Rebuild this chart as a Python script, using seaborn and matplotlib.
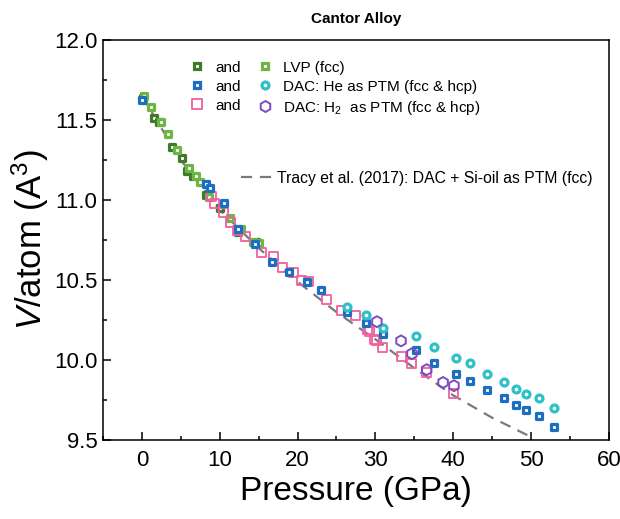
import matplotlib
matplotlib.use("Agg")
import matplotlib.pyplot as plt
import matplotlib.ticker as mticker
from matplotlib.lines import Line2D
import pandas as pd
import seaborn as sns

# --- data (pressure in GPa, volume in A^3/atom) ---
dg_p = [0.2, 1.5, 2.2, 3.9, 5.2, 5.8, 6.6, 8.2, 10.0, 12.4, 14.7]
dg_v = [11.64, 11.51, 11.49, 11.33, 11.26, 11.18, 11.15, 11.03, 10.95, 10.80, 10.74]

lg_p = [0.3, 1.2, 2.5, 3.3, 4.5, 6.1, 7.0, 7.5, 8.6, 11.3, 12.8, 14.3, 15.0]
lg_v = [11.65, 11.58, 11.49, 11.41, 11.31, 11.20, 11.15, 11.11, 11.02, 10.89, 10.82, 10.74, 10.73]

blue_p = [0.0, 8.2, 8.7, 10.5, 12.4, 14.5, 16.7, 18.9, 21.2, 23.0, 26.4, 28.8, 31.0,
          35.2, 37.6, 40.4, 42.1, 44.4, 46.5, 48.1, 49.3, 51.0, 53.0]
blue_v = [11.625, 11.10, 11.075, 10.98, 10.82, 10.725, 10.61, 10.55, 10.49, 10.44, 10.30,
          10.23, 10.16, 10.06, 9.98, 9.91, 9.87, 9.81, 9.76, 9.72, 9.69, 9.65, 9.58]

pink_p = [8.9, 9.3, 10.5, 11.4, 12.3, 13.3, 15.4, 16.9, 18.1, 19.5, 20.5, 21.4, 23.7,
          25.7, 27.5, 29.0, 29.3, 29.9, 30.2, 30.9, 33.3, 34.7, 36.6, 40.1]
pink_v = [11.02, 10.98, 10.92, 10.86, 10.81, 10.77, 10.67, 10.65, 10.58, 10.55, 10.50, 10.49, 10.38,
          10.31, 10.28, 10.19, 10.18, 10.13, 10.12, 10.08, 10.02, 9.98, 9.92, 9.79]

cyan_p = [26.4, 28.8, 31.0, 35.2, 37.6, 40.4, 42.1, 44.4, 46.5, 48.1, 49.3, 51.0, 53.0]
cyan_v = [10.33, 10.28, 10.20, 10.15, 10.08, 10.01, 9.98, 9.91, 9.86, 9.82, 9.79, 9.76, 9.70]

purple_p = [30.2, 33.3, 34.7, 36.6, 38.7, 40.1]
purple_v = [10.24, 10.12, 10.04, 9.94, 9.86, 9.84]

tracy_p = [0, 5, 10, 15, 20, 25, 30, 35, 40, 45, 50]
tracy_v = [11.65, 11.25, 10.94, 10.70, 10.49, 10.30, 10.13, 9.95, 9.78, 9.64, 9.52]

legend_labels = ["and", "and", "and", "LVP (fcc)",
                 "DAC: He as PTM (fcc & hcp)", r"DAC: H$_2$  as PTM (fcc & hcp)"]
tracy_label = "Tracy et al. (2017): DAC + Si-oil as PTM (fcc)"

sns.set_style("ticks")
plt.rcParams["font.family"] = ["Liberation Sans", "DejaVu Sans"]
plt.rcParams["mathtext.fontset"] = "custom"
plt.rcParams["mathtext.rm"] = "Liberation Sans"
plt.rcParams["mathtext.it"] = "Liberation Sans:italic"
plt.rcParams["text.color"] = "black"
plt.rcParams["axes.labelcolor"] = "black"
plt.rcParams["xtick.color"] = "black"
plt.rcParams["ytick.color"] = "black"

DG, LG, BLUE, PINK, CYAN, PURPLE = "#3f7a2c", "#6fb544", "#1b6ec2", "#f0609e", "#2fc0c8", "#7a4cc0"

fig = plt.figure(figsize=(6.2, 5.19), dpi=100)
ax = fig.add_axes([0.166, 0.152, 0.816, 0.771])

tracy = pd.DataFrame({"P": tracy_p, "V": tracy_v})
sns.lineplot(data=tracy, x="P", y="V", ax=ax, color="#7a7a7a", lw=1.6,
             dashes=False, zorder=1).lines[0].set_dashes([5, 3.5])

series = [
    (dg_p, dg_v, DG, "s", 18, 2.3, "white"),
    (lg_p, lg_v, LG, "s", 18, 2.3, "white"),
    (pink_p, pink_v, PINK, "s", 42, 1.3, "none"),
    (blue_p, blue_v, BLUE, "s", 18, 2.3, "white"),
    (cyan_p, cyan_v, CYAN, "o", 25, 2.3, "white"),
    (purple_p, purple_v, PURPLE, "h", 62, 1.4, "none"),
]
for p, v, col, mk, s, lw, fc in series:
    sns.scatterplot(x=p, y=v, ax=ax, marker=mk, s=s, facecolor=fc,
                    edgecolor=col, linewidth=lw, zorder=3)

ax.set_xlim(-5, 60)
ax.set_ylim(9.5, 12.0)
ax.xaxis.set_major_locator(mticker.MultipleLocator(10))
ax.xaxis.set_minor_locator(mticker.MultipleLocator(5))
ax.yaxis.set_major_locator(mticker.MultipleLocator(0.5))
ax.yaxis.set_minor_locator(mticker.MultipleLocator(0.25))
ax.yaxis.set_major_formatter(mticker.FormatStrFormatter("%.1f"))
ax.tick_params(which="both", direction="in", width=1.1, labelsize=16)
ax.tick_params(axis="x", pad=7)
ax.tick_params(axis="y", pad=4)
ax.tick_params(which="major", length=6)
ax.tick_params(which="minor", length=3)
for sp in ax.spines.values():
    sp.set_linewidth(1.1)
    sp.set_color("black")

ax.set_xlabel("Pressure (GPa)", fontsize=24, labelpad=4)
ax.set_ylabel(r"$\it{V}$/atom (A$^3$)", fontsize=25, labelpad=2)
ax.set_title("Cantor Alloy", fontsize=11, fontweight="bold", pad=12)

def mk_handle(col, mk, ms, lw, fc):
    return Line2D([], [], ls="none", marker=mk, markersize=ms, markeredgecolor=col,
                  markerfacecolor=fc, markeredgewidth=lw)

handles = [
    mk_handle(DG, "s", 4.2, 2.3, "white"),
    mk_handle(BLUE, "s", 4.2, 2.3, "white"),
    mk_handle(PINK, "s", 6.5, 1.3, "none"),
    mk_handle(LG, "s", 4.2, 2.3, "white"),
    mk_handle(CYAN, "o", 5.0, 2.3, "white"),
    mk_handle(PURPLE, "h", 7.9, 1.4, "none"),
]
leg = ax.legend(handles, legend_labels, ncol=2, loc="upper left",
                bbox_to_anchor=(0.17, 0.948), frameon=False, fontsize=11,
                handlelength=1.0, handletextpad=0.7, columnspacing=1.1,
                labelspacing=0.32, borderpad=0, borderaxespad=0)
ax.add_artist(leg)

tracy_handle = Line2D([], [], color="#7a7a7a", lw=1.6, dashes=[5, 3.5])
ax.legend([tracy_handle], [tracy_label], loc="upper left", bbox_to_anchor=(0.272, 0.673),
          frameon=False, fontsize=11.3, handlelength=2.0, handletextpad=0.3,
          borderpad=0, borderaxespad=0)

fig.savefig("out.png", dpi=100)
